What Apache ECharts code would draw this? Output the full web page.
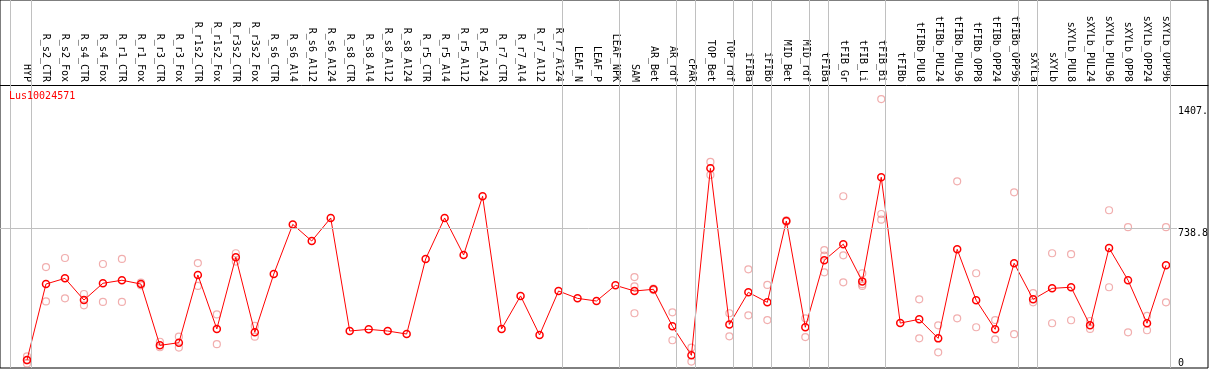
<!DOCTYPE html>
<html><head><meta charset="utf-8">
<script src="https://cdn.jsdelivr.net/npm/echarts@6/dist/echarts.min.js"></script>
<style>html,body{margin:0;padding:0;background:#fff}#c{width:1209px;height:370px}</style>
</head><body><div id="c"></div>
<script>
const chartTitle = 'Lus10024571';
const categories = ['HYP','R_s2_CTR','R_s2_Fox','R_s4_CTR','R_s4_Fox','R_r1_CTR','R_r1_Fox','R_r3_CTR','R_r3_Fox',
  'R_r1s2_CTR','R_r1s2_Fox','R_r3s2_CTR','R_r3s2_Fox','R_s6_CTR','R_s6_Al4','R_s6_Al12','R_s6_Al24',
  'R_s8_CTR','R_s8_Al4','R_s8_Al12','R_s8_Al24','R_r5_CTR','R_r5_Al4','R_r5_Al12','R_r5_Al24',
  'R_r7_CTR','R_r7_Al4','R_r7_Al12','R_r7_Al24','LEAF_N','LEAF_P','LEAF_NPK','SAM','AR_Bet','AR_rdf',
  'cPAR','TOP_Bet','TOP_rdf','iFIBa','iFIBb','MID_Bet','MID_rdf','tFIBa','tFIB_Gr','tFIB_Li','tFIB_Bi',
  'tFIBb','tFIBb_PUL8','tFIBb_PUL24','tFIBb_PUL96','tFIBb_OPP8','tFIBb_OPP24','tFIBb_OPP96',
  'sXYLa','sXYLb','sXYLb_PUL8','sXYLb_PUL24','sXYLb_PUL96','sXYLb_OPP8','sXYLb_OPP24','sXYLb_OPP96'];
const means = [42,445,475,360,449,465,445,120,134,
  493,207,587,189,498,761,673,795,
  196,205,196,180,578,795,599,910,
  207,382,175,408,369,355,438,408,417,221,
  67,1058,231,401,348,779,216,571,656,459,1011,
  238,258,157,629,359,205,555,
  364,422,428,226,636,465,237,544];
const replicates = [[62,40,24],[535,353],[583,369],[392,332],[551,350],[578,350],[452,438],[139,110],[166,108],
  [556,435],[284,126],[608,564],[223,166],[],[],[],[],
  [],[],[],[],[],[],[],[],
  [],[],[],[],[],[],[],[482,433,290],[421,413],[295,147],
  [108,34],[1092,1023],[290,168],[523,279],[440,254],[783,775],[263,164],[625,595,507],[910,597,454],[502,444,435],[1425,816,786],
  [],[364,157],[226,83],[989,263],[502,216],[254,152],[931,179],
  [397,348],[608,237],[603,253],[249,207],[836,428],[746,189],[276,200],[746,348]];
const groupEnds = [0,28,31,34,35,37,38,39,41,42,45,52,53,60];
const yTickValues = [0, 738.8, 1407];
const yTickLabels = ['0', '738.8', '1407.'];

const FONT = 'DejaVu Sans Mono';
const X_MIN = -1.4223, X_MAX = 62.2125, Y_MAX = 1950;
const X_LABEL = 60.58;

const repData = [];
replicates.forEach((arr, i) => arr.forEach(v => repData.push([i, v])));
const meanData = means.map((v, i) => [i, v]);

const sepLines = [{xAxis: -0.9}].concat(groupEnds.map(g => ({xAxis: g + 0.2})));
const valLines = yTickValues.map((v, k) => [
  {coord: [X_MIN, v],
   lineStyle: {color: v === 738.8 ? '#c0c0c0' : 'rgba(255,255,255,0)', width: 1, type: 'solid'},
   label: {show: true, position: 'end', distance: 1, formatter: yTickLabels[k], color: '#000',
           fontFamily: FONT, fontSize: 10, opacity: 1,
           verticalAlign: v === 0 ? 'bottom' : 'top', padding: v === 1407 ? [4,0,0,0] : 0}},
  {coord: [X_LABEL, v]}
]);

const chart = echarts.init(document.getElementById('c'), null, {renderer: 'canvas'});
chart.setOption({
  animation: false,
  title: {text: chartTitle, left: 9, top: 91, padding: 0,
          textStyle: {color: '#ff0000', fontFamily: FONT, fontSize: 10, fontWeight: 'normal'}},
  grid: {left: 0, right: 1, top: 0, bottom: 2, show: true, borderColor: '#000', borderWidth: 1,
         backgroundColor: 'transparent', outerBoundsMode: 'none'},
  xAxis: [
    {type: 'value', min: X_MIN, max: X_MAX, show: false, axisLine: {onZero: false}, splitLine: {show: false}},
    {type: 'value', min: X_MIN, max: X_MAX, position: 'top', offset: -85,
     axisLine: {show: true, onZero: false, lineStyle: {color: '#000', width: 1}},
     axisTick: {show: false}, splitLine: {show: false},
     axisLabel: {customValues: categories.map((_, i) => i), formatter: v => categories[Math.round(v)] || '',
                 rotate: 90, margin: 3, fontFamily: FONT, fontSize: 10, color: '#000', hideOverlap: false}}
  ],
  yAxis: {type: 'value', min: 0, max: Y_MAX, show: false, splitLine: {show: false}},
  series: [
    {type: 'scatter', xAxisIndex: 0, data: repData, symbol: 'circle', symbolSize: 7, z: 2,
     itemStyle: {color: 'rgba(0,0,0,0)', borderColor: 'rgba(232,120,120,0.75)', borderWidth: 1.2}},
    {type: 'line', xAxisIndex: 0, data: meanData, symbol: 'circle', symbolSize: 7, showAllSymbol: true, z: 3,
     lineStyle: {color: '#ff0000', width: 1},
     itemStyle: {color: 'rgba(255,255,255,0)', borderColor: '#ff0000', borderWidth: 1.5},
     markLine: {silent: true, symbol: ['none','none'], animation: false,
       lineStyle: {color: '#c0c0c0', width: 1, type: 'solid'},
       label: {show: false},
       data: sepLines.concat(valLines)}}
  ]
});
</script></body></html>
